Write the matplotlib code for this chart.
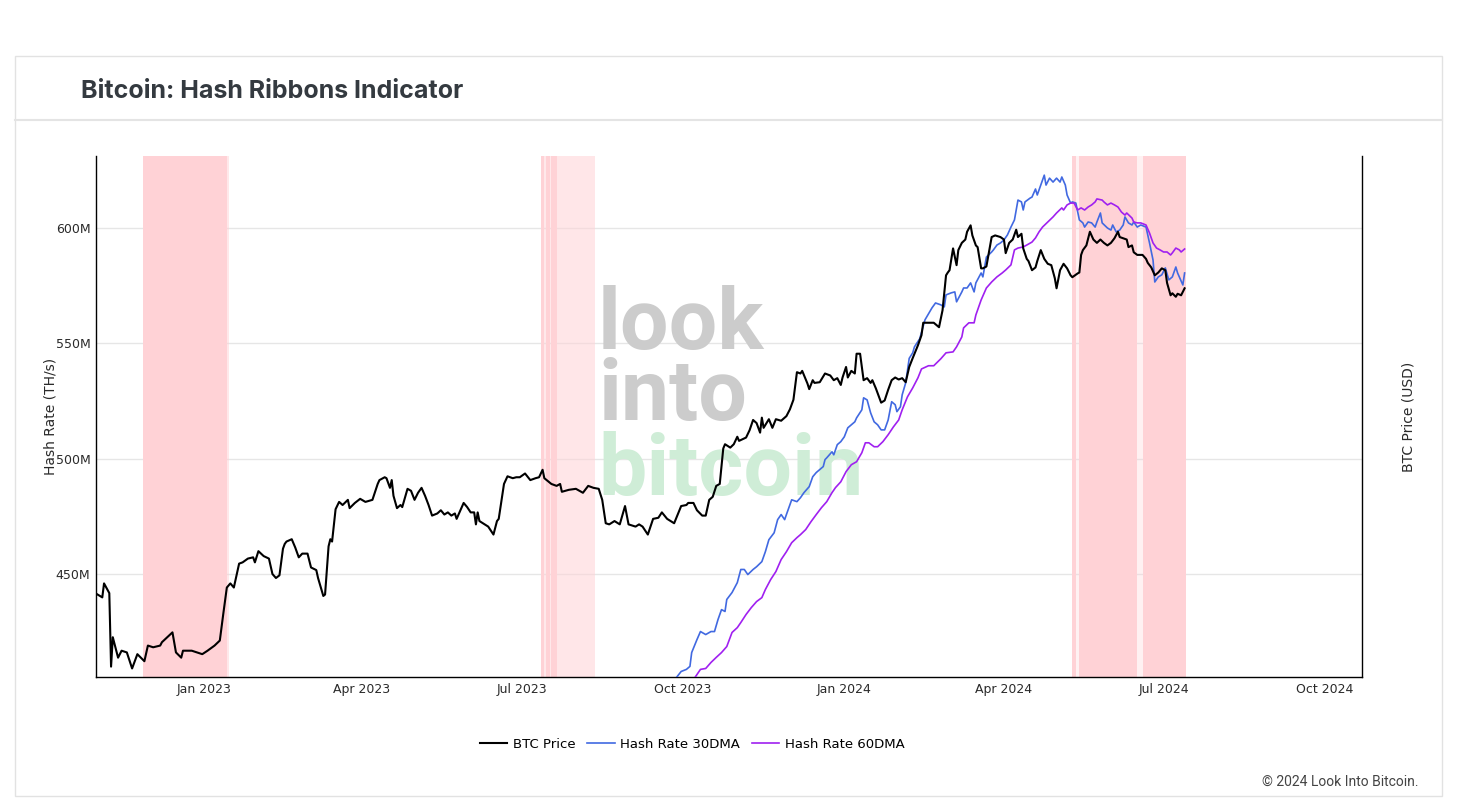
import matplotlib
matplotlib.use("Agg")
import matplotlib.pyplot as plt
import matplotlib.dates as mdates
import matplotlib.ticker as mticker
from matplotlib.patches import Rectangle
from matplotlib.lines import Line2D
import pandas as pd

# ---- data ----
btc_dates = [
    "2022-10-31", "2022-11-04", "2022-11-05", "2022-11-08", "2022-11-09", "2022-11-10",
    "2022-11-13", "2022-11-15", "2022-11-18", "2022-11-21", "2022-11-24", "2022-11-28",
    "2022-11-30", "2022-12-03", "2022-12-07", "2022-12-08", "2022-12-14", "2022-12-16",
    "2022-12-19", "2022-12-20", "2022-12-25", "2022-12-28", "2022-12-31", "2023-01-03",
    "2023-01-07", "2023-01-10", "2023-01-12", "2023-01-14", "2023-01-16", "2023-01-18",
    "2023-01-21", "2023-01-23", "2023-01-26", "2023-01-29", "2023-01-30", "2023-02-01",
    "2023-02-04", "2023-02-07", "2023-02-09", "2023-02-11", "2023-02-13", "2023-02-15",
    "2023-02-16", "2023-02-17", "2023-02-20", "2023-02-22", "2023-02-24", "2023-02-26",
    "2023-03-01", "2023-03-03", "2023-03-06", "2023-03-07", "2023-03-10", "2023-03-11",
    "2023-03-13", "2023-03-14", "2023-03-15", "2023-03-17", "2023-03-19", "2023-03-21",
    "2023-03-24", "2023-03-25", "2023-03-28", "2023-03-31", "2023-04-03", "2023-04-07",
    "2023-04-10", "2023-04-11", "2023-04-14", "2023-04-15", "2023-04-17", "2023-04-18",
    "2023-04-19", "2023-04-21", "2023-04-23", "2023-04-24", "2023-04-27", "2023-04-29",
    "2023-05-01", "2023-05-03", "2023-05-05", "2023-05-07", "2023-05-09", "2023-05-11",
    "2023-05-14", "2023-05-16", "2023-05-18", "2023-05-20", "2023-05-22", "2023-05-24",
    "2023-05-25", "2023-05-29", "2023-05-31", "2023-06-02", "2023-06-04", "2023-06-05",
    "2023-06-06", "2023-06-07", "2023-06-10", "2023-06-12", "2023-06-15", "2023-06-17",
    "2023-06-18", "2023-06-21", "2023-06-23", "2023-06-26", "2023-06-28", "2023-06-30",
    "2023-07-03", "2023-07-06", "2023-07-09", "2023-07-11", "2023-07-13", "2023-07-14",
    "2023-07-18", "2023-07-21", "2023-07-23", "2023-07-24", "2023-07-28", "2023-08-01",
    "2023-08-05", "2023-08-08", "2023-08-11", "2023-08-14", "2023-08-16", "2023-08-18",
    "2023-08-20", "2023-08-23", "2023-08-26", "2023-08-29", "2023-08-31", "2023-09-04",
    "2023-09-06", "2023-09-08", "2023-09-11", "2023-09-14", "2023-09-17", "2023-09-19",
    "2023-09-22", "2023-09-26", "2023-09-30", "2023-10-03", "2023-10-04", "2023-10-07",
    "2023-10-09", "2023-10-12", "2023-10-14", "2023-10-16", "2023-10-18", "2023-10-20",
    "2023-10-22", "2023-10-24", "2023-10-25", "2023-10-28", "2023-10-30", "2023-11-01",
    "2023-11-02", "2023-11-06", "2023-11-08", "2023-11-10", "2023-11-12", "2023-11-14",
    "2023-11-15", "2023-11-16", "2023-11-19", "2023-11-21", "2023-11-23", "2023-11-26",
    "2023-11-29", "2023-12-01", "2023-12-03", "2023-12-05", "2023-12-07", "2023-12-08",
    "2023-12-11", "2023-12-12", "2023-12-14", "2023-12-15", "2023-12-18", "2023-12-21",
    "2023-12-24", "2023-12-26", "2023-12-28", "2023-12-30", "2023-12-31", "2024-01-02",
    "2024-01-03", "2024-01-05", "2024-01-07", "2024-01-08", "2024-01-10", "2024-01-12",
    "2024-01-14", "2024-01-16", "2024-01-17", "2024-01-19", "2024-01-22", "2024-01-24",
    "2024-01-26", "2024-01-28", "2024-01-30", "2024-02-01", "2024-02-03", "2024-02-05",
    "2024-02-07", "2024-02-09", "2024-02-12", "2024-02-14", "2024-02-15", "2024-02-18",
    "2024-02-21", "2024-02-24", "2024-02-26", "2024-02-28", "2024-02-29", "2024-03-01",
    "2024-03-03", "2024-03-05", "2024-03-06", "2024-03-08", "2024-03-10", "2024-03-11",
    "2024-03-13", "2024-03-14", "2024-03-16", "2024-03-17", "2024-03-19", "2024-03-20",
    "2024-03-22", "2024-03-25", "2024-03-27", "2024-03-30", "2024-04-01", "2024-04-02",
    "2024-04-04", "2024-04-06", "2024-04-08", "2024-04-09", "2024-04-11", "2024-04-12",
    "2024-04-14", "2024-04-15", "2024-04-17", "2024-04-19", "2024-04-20", "2024-04-22",
    "2024-04-24", "2024-04-26", "2024-04-28", "2024-04-30", "2024-05-01", "2024-05-03",
    "2024-05-05", "2024-05-07", "2024-05-09", "2024-05-10", "2024-05-13", "2024-05-14",
    "2024-05-15", "2024-05-16", "2024-05-18", "2024-05-20", "2024-05-22", "2024-05-24",
    "2024-05-26", "2024-05-28", "2024-05-30", "2024-06-01", "2024-06-03", "2024-06-05",
    "2024-06-06", "2024-06-08", "2024-06-10", "2024-06-11", "2024-06-13", "2024-06-14",
    "2024-06-16", "2024-06-19", "2024-06-21", "2024-06-22", "2024-06-24", "2024-06-26",
    "2024-06-28", "2024-06-30", "2024-07-02", "2024-07-03", "2024-07-05", "2024-07-06",
    "2024-07-08", "2024-07-09", "2024-07-11", "2024-07-13",
]
btc_price = [
    20500, 20200, 21200, 20500, 15900, 17600,
    16400, 16800, 16700, 15800, 16600, 16200,
    17100, 17000, 17100, 17300, 17900, 16700,
    16400, 16800, 16800, 16700, 16600, 16800,
    17100, 17400, 19100, 20900, 21200, 20900,
    22700, 22800, 23100, 23200, 22800, 23700,
    23300, 23100, 21900, 21600, 21800, 23900,
    24300, 24500, 24700, 24000, 23200, 23500,
    23500, 22400, 22200, 21600, 20300, 20400,
    24100, 24700, 24500, 27400, 28100, 27800,
    28300, 27500, 28000, 28400, 28100, 28300,
    29900, 30300, 30600, 30500, 29500, 30300,
    28700, 27500, 27800, 27600, 29400, 29200,
    28300, 29000, 29500, 28700, 27800, 26800,
    27000, 27300, 26900, 27100, 26800, 27000,
    26500, 28000, 27600, 27100, 27100, 26000,
    27100, 26300, 26000, 25800, 25100, 26300,
    26500, 29900, 30700, 30500, 30600, 30600,
    31000, 30300, 30500, 30600, 31400, 30500,
    29900, 29700, 29900, 29100, 29300, 29400,
    29000, 29700, 29500, 29400, 28300, 26100,
    26000, 26300, 26000, 27700, 26000, 25800,
    26000, 25800, 25100, 26500, 26600, 27100,
    26500, 26100, 27700, 27800, 28000, 28000,
    27300, 26800, 26800, 28300, 28600, 29700,
    29900, 33800, 34300, 33900, 34300, 35200,
    34700, 35100, 36000, 37300, 36900, 35700,
    37600, 36300, 37400, 36300, 37400, 37200,
    37800, 38700, 40000, 44000, 43800, 44200,
    42300, 41500, 42800, 42400, 42500, 43800,
    43500, 42800, 43100, 42100, 43200, 44800,
    43200, 44200, 43800, 46900, 46900, 42800,
    43100, 42400, 42800, 41600, 39600, 39900,
    41400, 42800, 43200, 42900, 43100, 42500,
    44800, 46200, 48300, 50000, 52200, 52200,
    52200, 51400, 54500, 61500, 62100, 62600,
    67500, 63700, 67100, 68800, 69600, 71500,
    73100, 70600, 68200, 67800, 63000, 63000,
    63400, 70200, 70600, 70200, 69600, 66400,
    68800, 69600, 72000, 70200, 71000, 67500,
    65100, 64600, 62600, 63200, 64600, 67100,
    65100, 64000, 63700, 60900, 58800, 62600,
    64000, 63000, 61500, 61100, 61900, 62100,
    66000, 67100, 68200, 71500, 69600, 68800,
    69600, 68800, 68200, 68800, 69900, 71500,
    70200, 69900, 69600, 67800, 68200, 66600,
    66000, 66000, 65100, 64200, 63200, 61500,
    62100, 63000, 62600, 59900, 57400, 57800,
    57100, 57700, 57400, 58800,
]

# hash rate moving averages, millions of TH/s
hr30_dates = [
    "2023-09-24", "2023-09-30", "2023-10-03", "2023-10-05", "2023-10-06", "2023-10-09",
    "2023-10-11", "2023-10-14", "2023-10-17", "2023-10-19", "2023-10-21", "2023-10-23",
    "2023-10-25", "2023-10-26", "2023-10-29", "2023-11-01", "2023-11-03", "2023-11-05",
    "2023-11-07", "2023-11-10", "2023-11-12", "2023-11-15", "2023-11-17", "2023-11-19",
    "2023-11-22", "2023-11-24", "2023-11-26", "2023-11-28", "2023-11-29", "2023-12-02",
    "2023-12-05", "2023-12-07", "2023-12-09", "2023-12-12", "2023-12-14", "2023-12-16",
    "2023-12-18", "2023-12-20", "2023-12-21", "2023-12-22", "2023-12-25", "2023-12-26",
    "2023-12-28", "2023-12-30", "2024-01-01", "2024-01-03", "2024-01-05", "2024-01-07",
    "2024-01-08", "2024-01-11", "2024-01-12", "2024-01-14", "2024-01-16", "2024-01-18",
    "2024-01-20", "2024-01-22", "2024-01-24", "2024-01-26", "2024-01-28", "2024-01-30",
    "2024-01-31", "2024-02-02", "2024-02-03", "2024-02-05", "2024-02-07", "2024-02-09",
    "2024-02-10", "2024-02-13", "2024-02-16", "2024-02-17", "2024-02-20", "2024-02-22",
    "2024-02-25", "2024-02-27", "2024-02-28", "2024-03-02", "2024-03-04", "2024-03-05",
    "2024-03-08", "2024-03-09", "2024-03-11", "2024-03-13", "2024-03-15", "2024-03-16",
    "2024-03-19", "2024-03-20", "2024-03-22", "2024-03-25", "2024-03-26", "2024-03-28",
    "2024-03-30", "2024-04-01", "2024-04-03", "2024-04-05", "2024-04-07", "2024-04-09",
    "2024-04-11", "2024-04-12", "2024-04-13", "2024-04-16", "2024-04-17", "2024-04-19",
    "2024-04-20", "2024-04-22", "2024-04-24", "2024-04-25", "2024-04-27", "2024-04-29",
    "2024-05-01", "2024-05-03", "2024-05-04", "2024-05-06", "2024-05-07", "2024-05-09",
    "2024-05-10", "2024-05-12", "2024-05-14", "2024-05-16", "2024-05-17", "2024-05-19",
    "2024-05-21", "2024-05-23", "2024-05-24", "2024-05-26", "2024-05-27", "2024-05-30",
    "2024-06-01", "2024-06-02", "2024-06-04", "2024-06-06", "2024-06-08", "2024-06-09",
    "2024-06-11", "2024-06-13", "2024-06-14", "2024-06-16", "2024-06-18", "2024-06-21",
    "2024-06-23", "2024-06-25", "2024-06-26", "2024-06-28", "2024-06-30", "2024-07-02",
    "2024-07-04", "2024-07-06", "2024-07-08", "2024-07-09", "2024-07-12", "2024-07-13",
]
hr30 = [
    402.0, 407.8, 408.7, 410.0, 416.0, 421.6,
    425.1, 423.8, 425.1, 425.1, 430.3, 434.6,
    433.8, 439.0, 442.0, 446.3, 452.0, 452.0,
    449.8, 452.0, 453.2, 455.4, 459.7, 464.9,
    467.9, 473.6, 475.8, 473.6, 475.8, 482.2,
    481.4, 483.1, 485.3, 487.9, 492.2, 494.0,
    495.3, 496.6, 499.6, 500.4, 503.0, 501.7,
    506.1, 507.4, 509.5, 513.4, 514.7, 516.0,
    517.7, 521.2, 526.4, 525.5, 519.9, 516.0,
    514.7, 512.5, 512.5, 516.8, 524.7, 523.4,
    520.4, 522.5, 527.7, 532.9, 543.5, 545.9,
    548.5, 552.0, 560.2, 561.5, 565.4, 567.5,
    566.7, 565.8, 571.0, 571.9, 572.3, 568.0,
    572.3, 574.0, 574.0, 576.2, 572.3, 576.2,
    580.5, 578.8, 587.4, 589.6, 590.5, 592.6,
    593.5, 594.8, 597.0, 600.4, 603.5, 612.1,
    611.3, 607.8, 611.3, 613.0, 613.4, 616.9,
    614.3, 618.6, 622.9, 618.6, 621.6, 619.9,
    621.6, 619.9, 622.1, 618.6, 614.3, 610.8,
    611.3, 610.8, 603.5, 602.2, 600.4, 602.6,
    602.2, 600.4, 602.6, 606.5, 602.2, 600.0,
    599.1, 601.3, 598.3, 599.1, 601.3, 604.8,
    602.2, 601.3, 602.6, 600.4, 601.3, 600.4,
    593.5, 586.1, 576.6, 578.8, 579.7, 582.7,
    577.5, 578.8, 583.1, 580.5, 575.3, 580.5,
]

hr60_dates = [
    "2023-10-05", "2023-10-11", "2023-10-14", "2023-10-17", "2023-10-20", "2023-10-23",
    "2023-10-26", "2023-10-29", "2023-11-01", "2023-11-03", "2023-11-06", "2023-11-09",
    "2023-11-12", "2023-11-15", "2023-11-17", "2023-11-20", "2023-11-23", "2023-11-26",
    "2023-11-29", "2023-12-02", "2023-12-05", "2023-12-07", "2023-12-10", "2023-12-13",
    "2023-12-16", "2023-12-19", "2023-12-22", "2023-12-25", "2023-12-27", "2023-12-30",
    "2024-01-02", "2024-01-05", "2024-01-08", "2024-01-11", "2024-01-13", "2024-01-15",
    "2024-01-18", "2024-01-20", "2024-01-23", "2024-01-26", "2024-01-29", "2024-02-01",
    "2024-02-03", "2024-02-06", "2024-02-09", "2024-02-12", "2024-02-14", "2024-02-18",
    "2024-02-21", "2024-02-25", "2024-02-28", "2024-03-03", "2024-03-05", "2024-03-08",
    "2024-03-09", "2024-03-12", "2024-03-15", "2024-03-16", "2024-03-19", "2024-03-22",
    "2024-03-25", "2024-03-28", "2024-03-31", "2024-04-02", "2024-04-05", "2024-04-07",
    "2024-04-09", "2024-04-12", "2024-04-14", "2024-04-17", "2024-04-19", "2024-04-21",
    "2024-04-23", "2024-04-26", "2024-04-29", "2024-05-01", "2024-05-04", "2024-05-05",
    "2024-05-07", "2024-05-09", "2024-05-11", "2024-05-13", "2024-05-15", "2024-05-17",
    "2024-05-19", "2024-05-21", "2024-05-23", "2024-05-24", "2024-05-27", "2024-05-28",
    "2024-05-30", "2024-06-01", "2024-06-03", "2024-06-05", "2024-06-07", "2024-06-09",
    "2024-06-10", "2024-06-13", "2024-06-14", "2024-06-16", "2024-06-18", "2024-06-21",
    "2024-06-23", "2024-06-25", "2024-06-27", "2024-06-29", "2024-07-01", "2024-07-03",
    "2024-07-05", "2024-07-06", "2024-07-08", "2024-07-10", "2024-07-11", "2024-07-13",
]
hr60 = [
    402.0, 408.7, 409.1, 411.7, 413.9, 416.0,
    418.6, 424.7, 426.8, 429.0, 432.5, 435.5,
    438.1, 439.8, 443.3, 447.6, 451.1, 456.3,
    459.7, 463.6, 465.8, 467.1, 469.3, 472.7,
    475.8, 478.8, 481.4, 485.3, 487.5, 490.0,
    494.4, 497.4, 498.7, 502.6, 506.9, 506.9,
    505.2, 505.2, 507.4, 510.4, 513.8, 516.8,
    521.2, 526.8, 530.7, 535.1, 538.9, 540.3,
    540.3, 543.3, 545.9, 546.3, 548.5, 552.8,
    556.7, 558.9, 558.9, 562.3, 568.8, 574.0,
    576.6, 578.8, 580.5, 581.8, 584.0, 590.5,
    591.3, 591.8, 592.6, 593.9, 595.7, 598.3,
    600.4, 602.6, 604.8, 606.5, 608.7, 607.8,
    610.0, 610.8, 610.8, 607.8, 608.7, 607.8,
    609.1, 610.0, 611.3, 612.6, 612.1, 611.3,
    610.0, 610.8, 610.0, 609.1, 606.9, 605.6,
    606.5, 604.3, 602.6, 602.2, 602.2, 601.3,
    597.8, 593.5, 591.3, 590.5, 589.6, 589.6,
    588.3, 589.2, 591.3, 590.5, 589.6, 590.9,
]

# hash ribbon signal periods (1 = solid, lower = lighter shading)
band_start = [
    "2022-11-27", "2023-01-14",
    "2023-07-12", "2023-07-14", "2023-07-15", "2023-07-17", "2023-07-18", "2023-07-21",
    "2024-05-10", "2024-05-12", "2024-05-14", "2024-06-16", "2024-06-19",
]
band_end = [
    "2023-01-14", "2023-01-15",
    "2023-07-14", "2023-07-15", "2023-07-17", "2023-07-18", "2023-07-21", "2023-08-12",
    "2024-05-12", "2024-05-14", "2024-06-16", "2024-06-19", "2024-07-14",
]
band_level = [1.0, 0.5, 1.0, 0.5, 1.0, 0.5, 1.0, 0.55, 1.0, 0.3, 1.0, 0.3, 1.0]

hash_ticks = [450, 500, 550, 600]

# ---- figure ----
W, H = 1458, 801
fig = plt.figure(figsize=(W / 100, H / 100), dpi=100)

# card frame + header divider
fig.patches.append(Rectangle((15 / W, 1 - 796 / H), 1427 / W, 740 / H,
                             transform=fig.transFigure, fill=False,
                             edgecolor='#e2e2e2', linewidth=1))
fig.lines.append(Line2D([15 / W, 1442 / W], [1 - 120 / H] * 2,
                        transform=fig.transFigure, color='#e4e4e4', linewidth=1.5))
fig.text(81 / W, 1 - 92 / H, "Bitcoin: Hash Ribbons Indicator",
         fontsize=18, fontweight='bold', family='Inter', color='#343a40',
         ha='left', va='center')

ax = fig.add_axes([96 / W, 1 - 677 / H, 1266 / W, 521 / H])
ax2 = ax.twinx()

b_dates = pd.to_datetime(btc_dates)
d30 = pd.to_datetime(hr30_dates)
d60 = pd.to_datetime(hr60_dates)

for s, e, lvl in zip(band_start, band_end, band_level):
    ax.axvspan(pd.Timestamp(s), pd.Timestamp(e), facecolor='#ffd2d6',
               alpha=lvl, linewidth=0, zorder=1)

# watermark
wm = dict(transform=fig.transFigure, fontsize=62, fontweight='bold',
          family='Roboto', ha='left', va='baseline', zorder=1.5)
ax.text(598 / W, 1 - 349 / H, "look", color='#cccccc', **wm)
ax.text(598 / W, 1 - 420 / H, "into", color='#cccccc', **wm)
ax.text(598 / W, 1 - 495 / H, "bitcoin", color='#cfedd7', **wm)

l30, = ax.plot(d30, hr30, color='#4169e1', linewidth=1.2, zorder=3)
l60, = ax.plot(d60, hr60, color='#a020f0', linewidth=1.2, zorder=3)
lbtc, = ax2.plot(b_dates, btc_price, color='black', linewidth=1.5, zorder=4)

ax.set_xlim(pd.Timestamp("2022-10-31 10:00"), pd.Timestamp("2024-10-22 03:00"))
ax.set_ylim(405.4, 631.2)
ax.set_yticks(hash_ticks)
ax.yaxis.set_major_formatter(mticker.FuncFormatter(lambda v, p: f"{v:.0f}M"))
ax.xaxis.set_major_locator(mdates.MonthLocator(bymonth=[1, 4, 7, 10]))
ax.xaxis.set_major_formatter(mdates.DateFormatter('%b %Y'))
ax.yaxis.grid(True, color='#e6e6e6', linewidth=1)
ax.set_axisbelow(True)
ax.tick_params(axis='both', length=0, labelsize=9, labelcolor='#2a2a2a')
ax.tick_params(axis='y', pad=4)
ax.tick_params(axis='x', pad=4)

ax2.set_yscale('log')
ax2.set_ylim(15340, 92900)
ax2.yaxis.set_major_locator(mticker.NullLocator())
ax2.yaxis.set_minor_locator(mticker.NullLocator())

for a in (ax, ax2):
    a.spines['top'].set_visible(False)
ax.spines['right'].set_visible(False)
for sp in ('left', 'bottom'):
    ax.spines[sp].set_color('black')
    ax.spines[sp].set_linewidth(1)
ax2.spines['right'].set_color('black')
ax2.spines['right'].set_linewidth(1)
ax2.spines['left'].set_visible(False)
ax2.spines['bottom'].set_visible(False)

ax.set_ylabel("Hash Rate (TH/s)", fontsize=10, color='#2a2a2a')
ax.yaxis.set_label_coords((57 - 96) / 1266, 0.5)
ax2.set_ylabel("BTC Price (USD)", fontsize=10, color='#2a2a2a')
ax2.yaxis.set_label_coords((1401 - 96) / 1266, 0.5)

fig.legend([lbtc, l30, l60], ["BTC Price", "Hash Rate 30DMA", "Hash Rate 60DMA"],
           loc='center', bbox_to_anchor=(692 / W, 1 - 744 / H), ncol=3,
           frameon=False, fontsize=9.5, handlelength=2.1, handletextpad=0.4,
           columnspacing=0.9)

fig.text(1418 / W, 1 - 782 / H, "\u00a9 2024 Look Into Bitcoin.",
         fontsize=10, family='Roboto', color='#444444', ha='right', va='center')

fig.savefig("out.png", dpi=100)
